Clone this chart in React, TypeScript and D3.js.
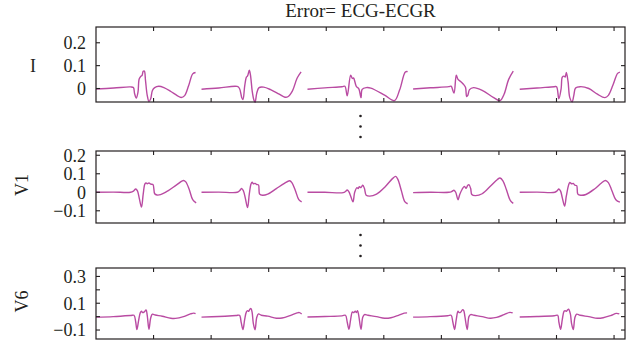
import * as d3 from 'd3';

// beat onsets (x-axis units, one tick = 1 unit)
const beatStarts = [0, 1.833, 3.674, 5.509, 7.361];
const xTicks = [1, 2, 3, 4, 5, 6, 7, 8, 9];

// Lead I error, one array of [t, value] per beat (t relative to beat onset)
const leadIBeats: [number, number][][] = [
  [[0, -0.002], [0.31, 0.002], [0.6, 0.007], [0.65, 0.004], [0.67, -0.022], [0.7, -0.042], [0.73, -0.015], [0.75, 0.042], [0.78, 0.054], [0.8, 0.057], [0.82, 0.075], [0.84, 0.076], [0.86, 0.035], [0.89, -0.03], [0.92, -0.057], [0.95, -0.045], [0.98, -0.009], [1.02, 0.004], [1.09, 0.01], [1.18, 0.004], [1.3, -0.013], [1.41, -0.031], [1.48, -0.039], [1.54, -0.031], [1.61, 0.013], [1.68, 0.064], [1.73, 0.07]],
  [[0, -0.003], [0.3, 0.002], [0.62, 0.009], [0.66, 0.0], [0.7, -0.04], [0.72, -0.048], [0.75, 0.01], [0.78, 0.05], [0.8, 0.055], [0.83, 0.08], [0.85, 0.06], [0.88, -0.01], [0.91, -0.05], [0.93, -0.06], [0.96, -0.02], [1.0, 0.004], [1.08, 0.006], [1.2, -0.005], [1.35, -0.025], [1.45, -0.038], [1.5, -0.036], [1.58, -0.01], [1.66, 0.045], [1.73, 0.073]],
  [[0, -0.003], [0.3, 0.003], [0.6, 0.008], [0.65, 0.01], [0.69, -0.032], [0.75, 0.058], [0.78, 0.044], [0.8, 0.046], [0.85, 0.008], [0.89, 0.0], [0.93, -0.04], [0.95, -0.004], [1.02, 0.004], [1.1, 0.002], [1.34, -0.029], [1.51, -0.053], [1.6, -0.007], [1.7, 0.072], [1.74, 0.074]],
  [[0, -0.002], [0.3, 0.003], [0.62, 0.008], [0.66, 0.01], [0.71, -0.02], [0.75, 0.058], [0.78, 0.04], [0.83, 0.03], [0.87, 0.02], [0.91, 0.005], [0.93, -0.035], [0.95, -0.03], [0.98, -0.005], [1.05, 0.004], [1.2, -0.008], [1.4, -0.04], [1.51, -0.053], [1.58, -0.025], [1.66, 0.04], [1.74, 0.076]],
  [[0, -0.003], [0.3, 0.002], [0.6, 0.008], [0.64, 0.008], [0.68, -0.045], [0.72, 0.0], [0.74, 0.05], [0.77, 0.054], [0.79, 0.05], [0.81, 0.07], [0.84, 0.03], [0.87, -0.04], [0.91, -0.058], [0.94, -0.03], [0.97, 0.002], [1.05, 0.008], [1.2, 0.0], [1.35, -0.025], [1.48, -0.04], [1.54, -0.03], [1.62, 0.015], [1.7, 0.066], [1.74, 0.072]],
];

const leadV1Beats: [number, number][][] = [
  [[0, 0.0], [0.3, 0.001], [0.6, 0.0], [0.65, 0.006], [0.69, 0.018], [0.72, 0.008], [0.75, -0.03], [0.79, -0.08], [0.82, -0.01], [0.85, 0.045], [0.87, 0.05], [0.89, 0.046], [0.92, 0.05], [0.95, 0.044], [0.99, 0.042], [1.02, -0.008], [1.06, -0.015], [1.12, -0.013], [1.25, 0.008], [1.4, 0.04], [1.52, 0.064], [1.56, 0.056], [1.62, 0.015], [1.68, -0.04], [1.74, -0.057]],
  [[0, 0.0], [0.3, 0.001], [0.62, 0.0], [0.66, 0.008], [0.7, 0.02], [0.73, 0.006], [0.76, -0.03], [0.8, -0.083], [0.83, -0.01], [0.86, 0.045], [0.88, 0.054], [0.9, 0.046], [0.93, 0.048], [0.96, 0.042], [0.99, 0.04], [1.01, -0.01], [1.06, -0.016], [1.15, -0.01], [1.3, 0.02], [1.44, 0.048], [1.53, 0.062], [1.57, 0.052], [1.63, 0.01], [1.69, -0.04], [1.74, -0.052]],
  [[0, 0.0], [0.3, 0.0], [0.62, -0.002], [0.66, 0.004], [0.69, 0.012], [0.72, 0.002], [0.75, -0.02], [0.79, -0.052], [0.82, 0.0], [0.86, 0.025], [0.88, 0.02], [0.9, 0.03], [0.93, 0.026], [0.96, 0.038], [0.99, 0.02], [1.02, -0.016], [1.08, -0.021], [1.2, -0.01], [1.35, 0.03], [1.48, 0.075], [1.53, 0.086], [1.57, 0.07], [1.63, 0.01], [1.69, -0.05], [1.74, -0.062]],
  [[0, -0.002], [0.3, 0.0], [0.62, 0.0], [0.67, 0.004], [0.71, 0.011], [0.74, 0.0], [0.78, -0.04], [0.81, -0.012], [0.85, 0.015], [0.89, 0.032], [0.92, 0.022], [0.95, 0.038], [0.97, 0.041], [1.0, 0.02], [1.02, -0.012], [1.08, -0.018], [1.2, -0.008], [1.35, 0.035], [1.46, 0.068], [1.51, 0.077], [1.56, 0.062], [1.62, 0.015], [1.69, -0.045], [1.74, -0.06]],
  [[0, 0.0], [0.3, 0.001], [0.61, 0.0], [0.65, 0.008], [0.68, 0.018], [0.71, 0.006], [0.74, -0.03], [0.78, -0.075], [0.81, -0.02], [0.85, 0.04], [0.87, 0.053], [0.9, 0.046], [0.93, 0.048], [0.96, 0.038], [0.99, 0.036], [1.01, -0.01], [1.06, -0.016], [1.15, -0.012], [1.3, 0.018], [1.42, 0.05], [1.49, 0.064], [1.54, 0.052], [1.6, 0.01], [1.67, -0.04], [1.74, -0.053]],
];

const leadV6Beats: [number, number][][] = [
  [[0, -0.004], [0.3, 0.0], [0.6, 0.008], [0.66, 0.01], [0.69, -0.04], [0.71, -0.097], [0.74, -0.03], [0.77, 0.03], [0.79, 0.04], [0.81, 0.03], [0.84, 0.036], [0.87, 0.05], [0.89, 0.01], [0.92, -0.095], [0.95, -0.01], [0.98, 0.018], [1.03, 0.012], [1.15, 0.003], [1.3, -0.012], [1.38, -0.013], [1.52, 0.0], [1.64, 0.02], [1.7, 0.026], [1.73, 0.022]],
  [[0, -0.004], [0.3, 0.001], [0.6, 0.008], [0.66, 0.01], [0.69, -0.045], [0.72, -0.097], [0.75, -0.02], [0.78, 0.035], [0.8, 0.045], [0.82, 0.04], [0.84, 0.055], [0.86, 0.06], [0.88, 0.03], [0.9, -0.05], [0.93, -0.098], [0.96, -0.005], [0.99, 0.02], [1.04, 0.01], [1.15, 0.004], [1.3, -0.012], [1.4, -0.01], [1.55, 0.01], [1.66, 0.028], [1.7, 0.03], [1.74, 0.02]],
  [[0, -0.003], [0.3, 0.001], [0.6, 0.006], [0.66, 0.01], [0.69, -0.04], [0.72, -0.095], [0.75, -0.02], [0.78, 0.035], [0.8, 0.03], [0.83, 0.04], [0.85, 0.03], [0.87, 0.045], [0.89, 0.01], [0.93, -0.095], [0.96, -0.005], [0.99, 0.015], [1.05, 0.01], [1.2, 0.0], [1.34, -0.012], [1.45, -0.008], [1.58, 0.01], [1.68, 0.026], [1.73, 0.028]],
  [[0, -0.004], [0.3, 0.0], [0.6, 0.007], [0.66, 0.01], [0.69, -0.04], [0.72, -0.096], [0.75, -0.02], [0.78, 0.04], [0.8, 0.03], [0.83, 0.035], [0.86, 0.052], [0.88, 0.045], [0.9, 0.0], [0.94, -0.096], [0.97, 0.0], [1.0, 0.015], [1.06, 0.01], [1.2, 0.0], [1.34, -0.012], [1.45, -0.006], [1.58, 0.015], [1.68, 0.032], [1.73, 0.028]],
  [[0, -0.003], [0.3, 0.001], [0.6, 0.007], [0.66, 0.01], [0.68, -0.04], [0.71, -0.095], [0.74, -0.02], [0.77, 0.04], [0.79, 0.045], [0.81, 0.04], [0.83, 0.05], [0.85, 0.055], [0.88, 0.02], [0.9, -0.05], [0.93, -0.097], [0.96, -0.005], [0.99, 0.018], [1.05, 0.01], [1.2, 0.0], [1.35, -0.012], [1.45, -0.008], [1.58, 0.008], [1.68, 0.024], [1.73, 0.02]],
];

const leadITicks = [0, 0.1, 0.2];
const leadILabels = [0, 0.1, 0.2];
const leadV1Ticks = [-0.1, 0, 0.1, 0.2];
const leadV1Labels = [-0.1, 0, 0.1, 0.2];
const leadV6Ticks = [-0.1, 0, 0.1, 0.2, 0.3];
const leadV6Labels = [-0.1, 0.1, 0.3];

const W = 638;
const H = 347;
const left = 96;
const right = 625;
const lineColor = '#b94ba2';
const ink = '#231f20';
const font = '"Liberation Serif", "Times New Roman", serif';

const panels = [
  { name: 'I', rotate: false, top: 27, bottom: 102, domain: [-0.059, 0.269], beats: leadIBeats, ticks: leadITicks, labels: leadILabels },
  { name: 'V1', rotate: true, top: 151, bottom: 223, domain: [-0.166, 0.223], beats: leadV1Beats, ticks: leadV1Ticks, labels: leadV1Labels },
  { name: 'V6', rotate: true, top: 268, bottom: 339, domain: [-0.167, 0.363], beats: leadV6Beats, ticks: leadV6Ticks, labels: leadV6Labels },
];

const fmt = (v: number) => (v === 0 ? '0' : d3.format('.1f')(v));

const x = d3.scaleLinear().domain([0, 9.19]).range([left, right]);

function Panel({ p }: { p: typeof panels[number] }) {
  const y = d3.scaleLinear().domain(p.domain).range([p.bottom, p.top]);
  const tl = 4;
  return (
    <g>
      {p.beats.map((beat, i) => {
        const line = d3
          .line<[number, number]>()
          .x((d) => x(beatStarts[i] + d[0]))
          .y((d) => y(d[1]))
          .curve(d3.curveCatmullRom.alpha(0.5));
        return <path key={i} d={line(beat) || ''} fill="none" stroke={lineColor} strokeWidth={1.4} strokeLinejoin="round" />;
      })}
      <rect x={left} y={p.top} width={right - left} height={p.bottom - p.top} fill="none" stroke={ink} strokeWidth={1.2} />
      {xTicks.map((t) => (
        <g key={'x' + t}>
          <line x1={x(t)} x2={x(t)} y1={p.top} y2={p.top + tl} stroke={ink} strokeWidth={1.1} />
          <line x1={x(t)} x2={x(t)} y1={p.bottom} y2={p.bottom - tl} stroke={ink} strokeWidth={1.1} />
        </g>
      ))}
      {p.ticks.map((t) => (
        <g key={'y' + t}>
          <line x1={left} x2={left + tl} y1={y(t)} y2={y(t)} stroke={ink} strokeWidth={1.1} />
          <line x1={right} x2={right - tl} y1={y(t)} y2={y(t)} stroke={ink} strokeWidth={1.1} />
        </g>
      ))}
      {p.labels.map((t) => (
        <text key={'l' + t} x={left - 10} y={y(t)} dy="0.35em" textAnchor="end" fontSize={18} fill={ink}>
          {fmt(t)}
        </text>
      ))}
      {p.rotate ? (
        <text transform={`translate(28,${(p.top + p.bottom) / 2 - 2}) rotate(-90)`} textAnchor="middle" fontSize={18} fill={ink}>
          {p.name}
        </text>
      ) : (
        <text x={33} y={y(0.1)} dy="0.35em" textAnchor="middle" fontSize={18} fill={ink}>
          {p.name}
        </text>
      )}
    </g>
  );
}

export default function App() {
  const midX = (left + right) / 2;
  const gap1 = (panels[0].bottom + panels[1].top) / 2;
  const gap2 = (panels[1].bottom + panels[2].top) / 2;
  return (
    <div style={{ position: 'absolute', left: 0, top: 0 }}>
      <svg width={W} height={H} style={{ display: 'block', fontFamily: font }}>
        <rect width={W} height={H} fill="#fff" />
        <text x={midX} y={17} textAnchor="middle" fontSize={19} fill={ink}>
          Error= ECG-ECGR
        </text>
        {panels.map((p) => (
          <Panel key={p.name} p={p} />
        ))}
        {[gap1, gap2].map((g, i) => (
          <g key={i}>
            {[-10.5, 0, 10.5].map((o) => (
              <circle key={o} cx={midX} cy={g + o} r={1.3} fill={ink} />
            ))}
          </g>
        ))}
      </svg>
    </div>
  );
}
